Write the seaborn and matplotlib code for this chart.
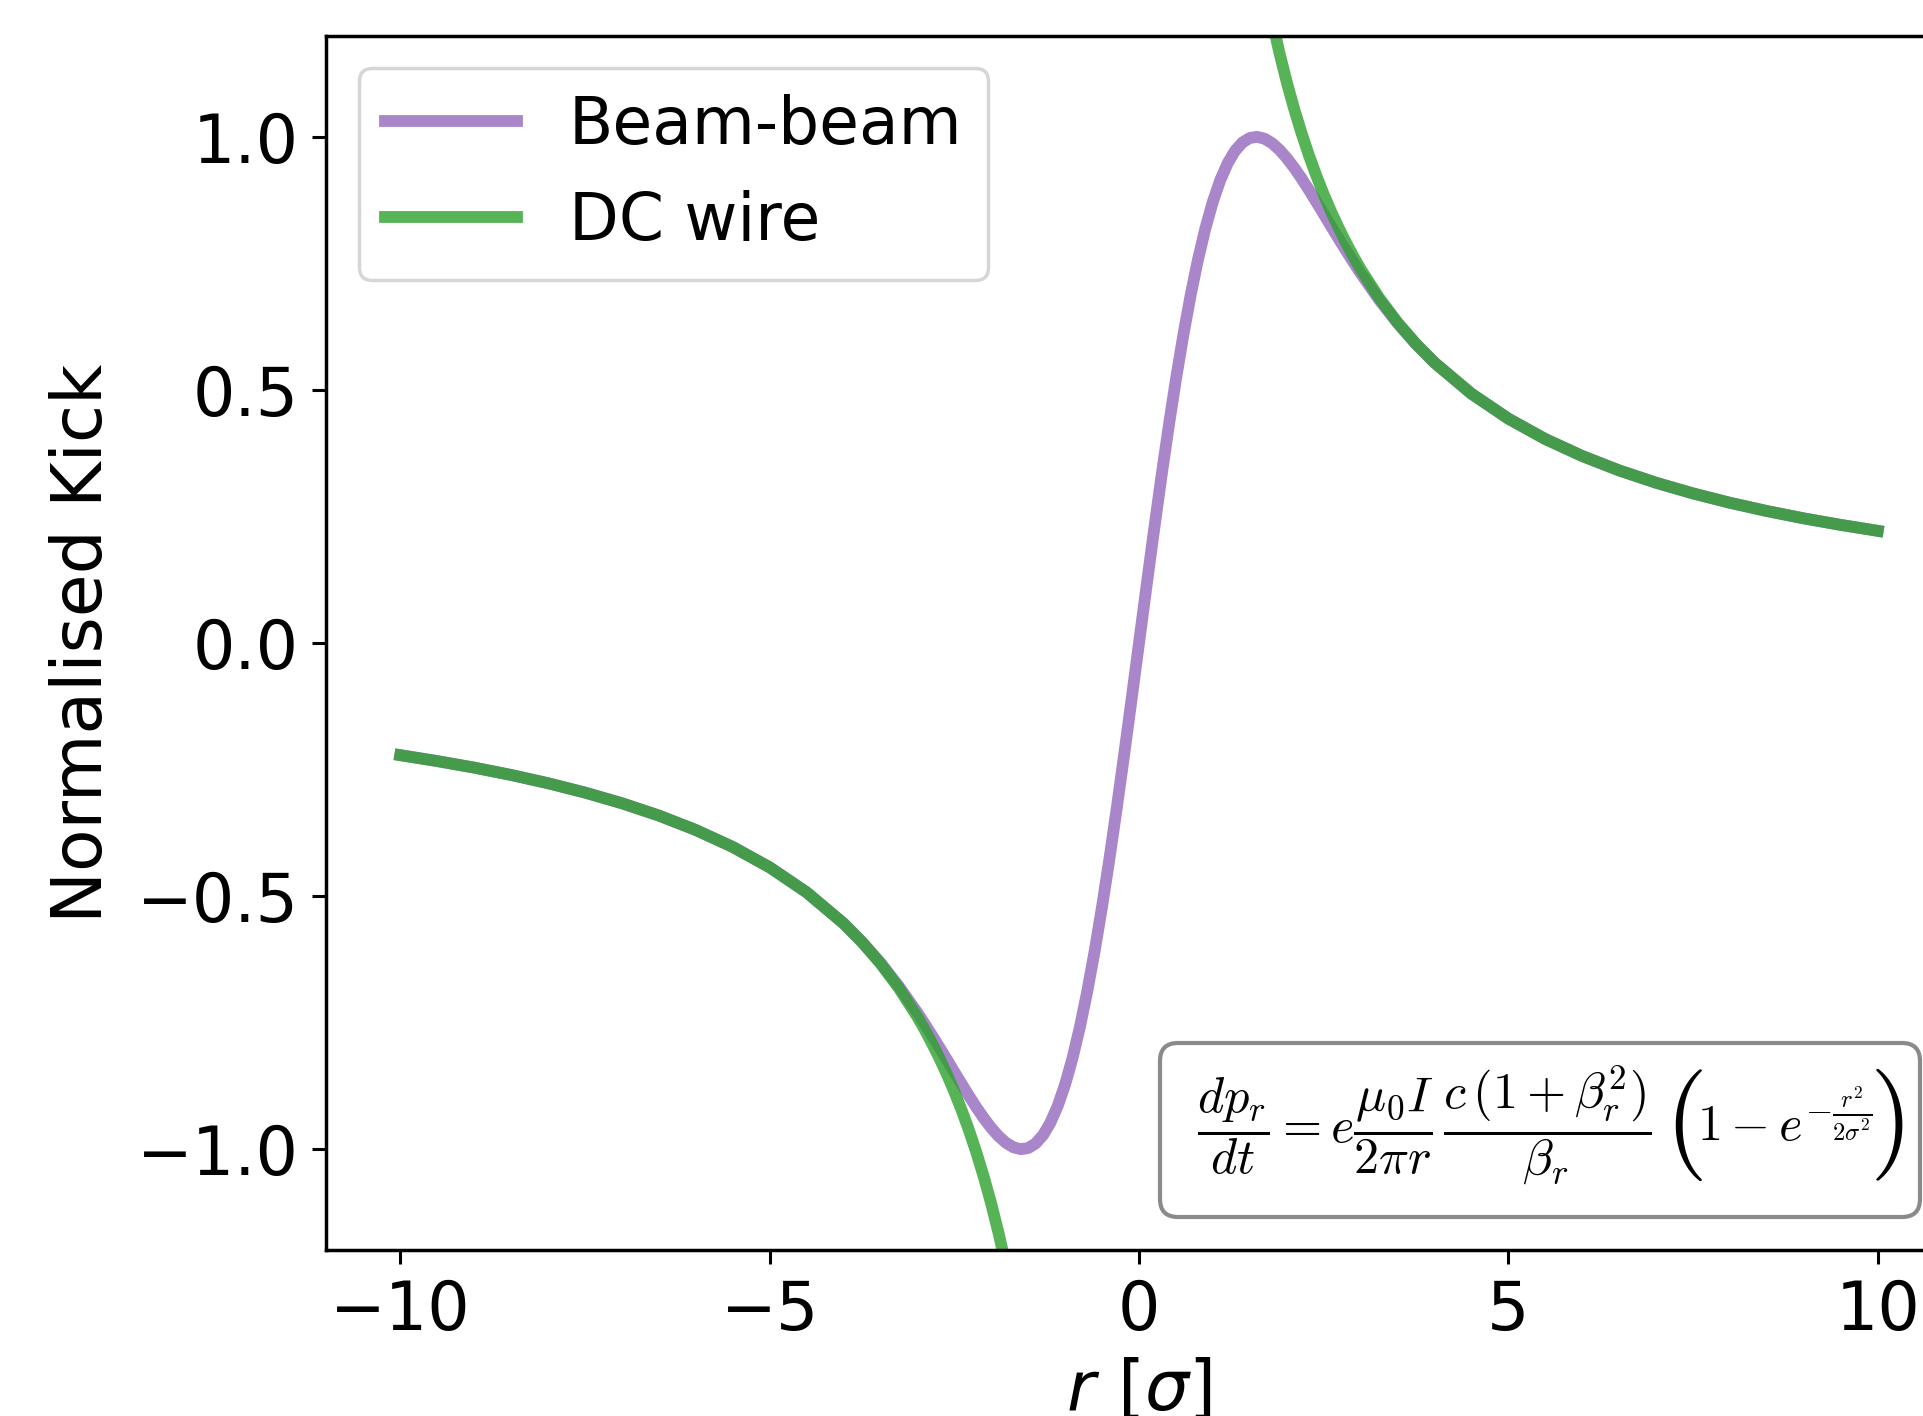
import matplotlib
matplotlib.use("Agg")
import matplotlib.pyplot as plt
import seaborn as sns
import pandas as pd
from matplotlib.patches import FancyBboxPatch

# ---- data (odd-symmetric curves) ----
r_pos = [0.0, 0.1, 0.2, 0.3, 0.4, 0.5, 0.6, 0.7, 0.8, 0.9, 1.0, 1.1, 1.2, 1.3, 1.4,
         1.5, 1.6, 1.7, 1.8, 1.9, 2.0, 2.1, 2.2, 2.3, 2.4, 2.5, 2.6, 2.7, 2.8, 2.9,
         3.0, 3.25, 3.5, 3.75, 4.0, 4.5, 5.0, 5.5, 6.0, 6.5, 7.0, 7.5, 8.0, 8.5,
         9.0, 9.5, 10.0]
beam_pos = [0.0, 0.1105, 0.2194, 0.3251, 0.4260, 0.5208, 0.6084, 0.6879, 0.7586,
            0.8200, 0.8720, 0.9145, 0.9478, 0.9724, 0.9888, 0.9978, 1.0000, 0.9963,
            0.9875, 0.9745, 0.9581, 0.9389, 0.9178, 0.8951, 0.8715, 0.8475, 0.8233,
            0.7993, 0.7758, 0.7528, 0.7305, 0.6784, 0.6318, 0.5904, 0.5538, 0.4925,
            0.4432, 0.4029, 0.3694, 0.3409, 0.3166, 0.2955, 0.2770, 0.2607, 0.2462,
            0.2333, 0.2216]

wire_r_pos = [1.8, 1.9, 2.0, 2.1, 2.2, 2.3, 2.4, 2.5, 2.6, 2.7, 2.8, 2.9, 3.0, 3.25,
              3.5, 3.75, 4.0, 4.5, 5.0, 5.5, 6.0, 6.5, 7.0, 7.5, 8.0, 8.5, 9.0, 9.5, 10.0]
wire_pos = [1.2312, 1.1664, 1.1081, 1.0553, 1.0073, 0.9635, 0.9234, 0.8864, 0.8523,
            0.8208, 0.7915, 0.7642, 0.7387, 0.6819, 0.6332, 0.5910, 0.5540, 0.4925,
            0.4432, 0.4029, 0.3694, 0.3409, 0.3166, 0.2955, 0.2770, 0.2607, 0.2462,
            0.2333, 0.2216]

beam_r = [-v for v in r_pos[:0:-1]] + r_pos
beam_k = [-v for v in beam_pos[:0:-1]] + beam_pos
wire_neg_r = [-v for v in wire_r_pos]
wire_neg_k = [-v for v in wire_pos]

x_ticks = [-10, -5, 0, 5, 10]
y_ticks = [-1.0, -0.5, 0.0, 0.5, 1.0]

df_beam = pd.DataFrame({"r": beam_r, "kick": beam_k})
df_wire_neg = pd.DataFrame({"r": wire_neg_r, "kick": wire_neg_k})
df_wire_pos = pd.DataFrame({"r": wire_r_pos, "kick": wire_pos})

# ---- figure ----
W, H = 19.24, 14.16
fig = plt.figure(figsize=(W, H), dpi=100)
ax = fig.add_axes([0.16965, 0.11695, 0.84470, 0.85791])

lw = 8.5
sns.lineplot(data=df_beam, x="r", y="kick", ax=ax, color="tab:purple", alpha=0.8,
             linewidth=lw, label="Beam-beam")
sns.lineplot(data=df_wire_neg, x="r", y="kick", ax=ax, color="tab:green", alpha=0.8,
             linewidth=lw, label="DC wire")
sns.lineplot(data=df_wire_pos, x="r", y="kick", ax=ax, color="tab:green", alpha=0.8,
             linewidth=lw)

ax.set_xlim(-11, 11)
ax.set_ylim(-1.2, 1.2)
ax.set_xticks(x_ticks)
ax.set_yticks(y_ticks)
ax.tick_params(labelsize=48, length=10, width=2.2, pad=10)
for s in ax.spines.values():
    s.set_linewidth(2.5)

ax.set_xlabel(r"$r\ [\sigma]$", fontsize=50, labelpad=9)
ax.set_ylabel("Normalised Kick", fontsize=50, labelpad=15)

leg = ax.legend(loc="upper left", fontsize=46.5, handlelength=2.05)
leg.get_frame().set_linewidth(2.5)

# equation box (figure inches)
box = FancyBboxPatch((11.60, 1.99), 7.60, 1.74,
                     boxstyle="round,pad=0,rounding_size=0.18",
                     transform=fig.dpi_scale_trans, facecolor="white",
                     edgecolor="#8a8a8a", linewidth=3, zorder=5)
fig.patches.append(box)

base_y = 2.75 / H
eq_kw = dict(math_fontfamily="cm", zorder=6)
fig.text(1197 / 1924, base_y,
         r"$\dfrac{dp_r}{dt} = e\dfrac{\mu_0 I}{2\pi r}\,\dfrac{c\,(1+\beta_r^2)}{\beta_r}$",
         fontsize=36.2, ha="left", va="baseline", **eq_kw)
fig.text(1683 / 1924, 2.91 / H, r"$($", fontsize=80, ha="center", va="center", **eq_kw)
fig.text(1697 / 1924, base_y, r"$1-e^{-\frac{r^2}{2\sigma^2}}$",
         fontsize=36.2, ha="left", va="baseline", **eq_kw)
fig.text(1886 / 1924, 2.91 / H, r"$)$", fontsize=80, ha="center", va="center", **eq_kw)

fig.savefig("out.png", dpi=100)
